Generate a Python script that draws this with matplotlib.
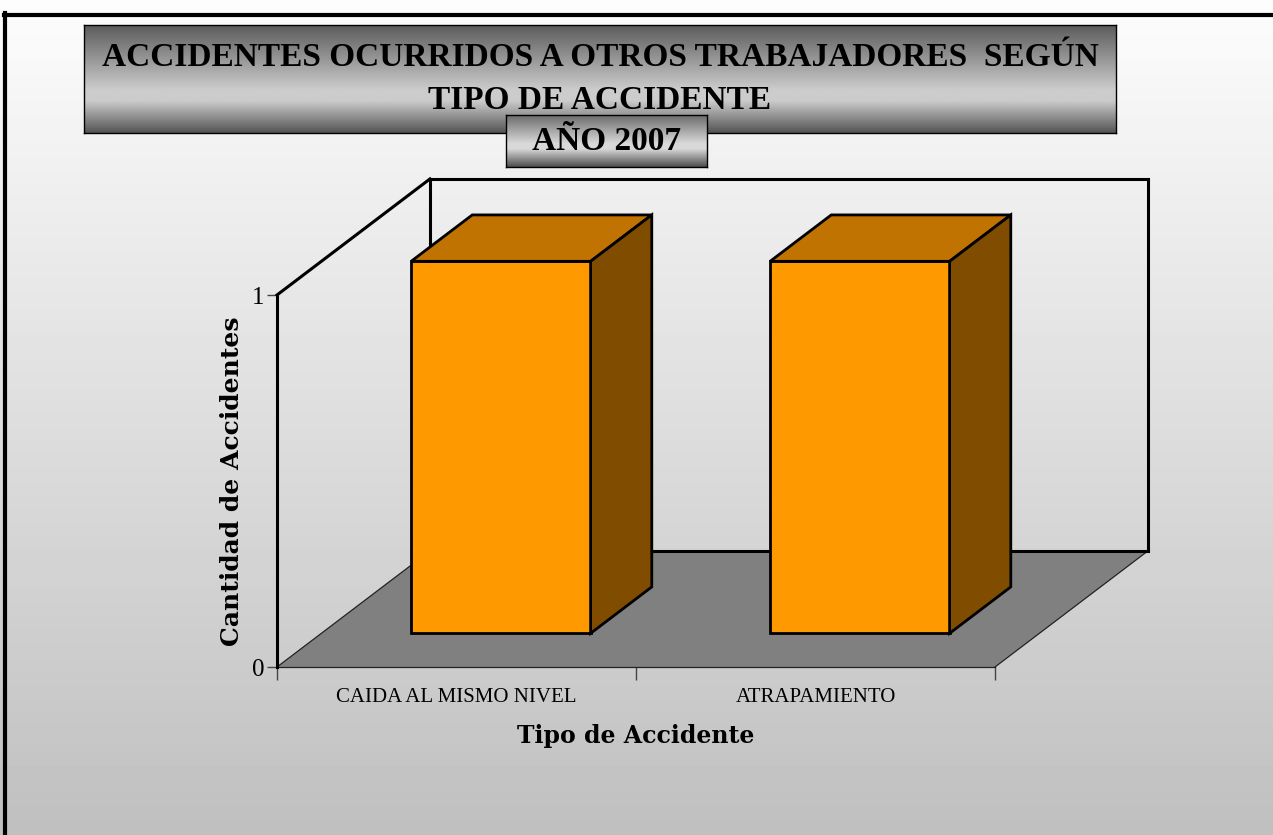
import numpy as np
import matplotlib.pyplot as plt
from matplotlib.patches import Polygon
from matplotlib.lines import Line2D

categories = ["CAIDA AL MISMO NIVEL", "ATRAPAMIENTO"]
values = [1, 1]
yticks = [0, 1]

title = "ACCIDENTES OCURRIDOS A OTROS TRABAJADORES  SEGÚN\nTIPO DE ACCIDENTE"
subtitle = "AÑO 2007"
xlabel = "Tipo de Accidente"
ylabel = "Cantidad de Accidentes"

W, H = 1273, 835
DX, DY = 0.426, 0.312      # full depth offset in data units
D0, D1 = 0.29, 0.69        # bar depth (front, back) as fraction of depth
BAR_W = 0.5

FRONT = "#FF9900"
TOP = "#C07300"
SIDE = "#804D00"
FLOOR = "#808080"


def fx(px):
    return px / W


def fy(py):
    return 1 - py / H


def gradient_axes(fig, rect, stops, z):
    a = fig.add_axes(rect, zorder=z)
    pos, val = zip(*stops)
    g = np.interp(np.linspace(0, 1, 256), pos, val)
    a.imshow(g[:, None], cmap="gray", vmin=0, vmax=1, aspect="auto",
             extent=(0, 1, 0, 1), origin="upper")
    a.set_xticks([])
    a.set_yticks([])
    for s in a.spines.values():
        s.set_color("black")
        s.set_linewidth(1.0)
    return a


def main():
    fig = plt.figure(figsize=(W / 100, H / 100), dpi=100)

    # page background
    bg = fig.add_axes([0, 0, 1, 1], zorder=-10)
    bg.imshow(np.linspace(0.99, 0.75, 256)[:, None], cmap="gray", vmin=0,
              vmax=1, aspect="auto", extent=(0, 1, 0, 1), origin="upper")
    bg.axis("off")
    fig.add_artist(Line2D([fx(4), 1], [fy(14.5), fy(14.5)], color="black",
                          lw=3, zorder=5))
    fig.add_artist(Line2D([fx(5.5), fx(5.5)], [fy(13), 0], color="black",
                          lw=3, zorder=5))

    # main plot: front plane axes
    ax = fig.add_axes([fx(277), fy(667), fx(995 - 277), (667 - 295) / H],
                      zorder=1)
    ax.set_facecolor("none")
    ax.set_xlim(0, 2)
    ax.set_ylim(0, 1)
    n = len(categories)

    floor = Polygon([(0, 0), (n, 0), (n + DX, DY), (DX, DY)],
                    closed=True, facecolor=FLOOR, edgecolor="none",
                    clip_on=False, zorder=1)
    ax.add_patch(floor)
    thin = dict(color="#222222", lw=0.9, clip_on=False, zorder=2)
    thick = dict(color="black", lw=2.2, clip_on=False, zorder=2,
                 solid_capstyle="projecting")
    ax.plot([0, DX], [0, DY], **thin)
    ax.plot([n, n + DX], [0, DY], **thin)
    ax.plot([DX, n + DX], [DY, DY], **thick)
    ax.plot([DX, DX], [DY, 1 + DY], **thick)
    ax.plot([DX, n + DX], [1 + DY, 1 + DY], **thick)
    ax.plot([n + DX, n + DX], [DY, 1 + DY], **thick)
    ax.plot([0, DX], [1, 1 + DY], **thick)

    # bars
    x = np.arange(n) + 0.5
    x0 = x + D0 * DX
    b0 = D0 * DY
    ddx = (D1 - D0) * DX
    ddy = (D1 - D0) * DY
    ax.bar(x0, values, width=BAR_W, bottom=b0, color=FRONT,
           edgecolor="black", linewidth=2, zorder=4, clip_on=False)
    for xc, v in zip(x0, values):
        l, r = xc - BAR_W / 2, xc + BAR_W / 2
        t = b0 + v
        ax.add_patch(Polygon([(l, t), (r, t), (r + ddx, t + ddy),
                              (l + ddx, t + ddy)], closed=True,
                             facecolor=TOP, edgecolor="black", lw=2,
                             joinstyle="miter", zorder=4, clip_on=False))
        ax.add_patch(Polygon([(r, b0), (r + ddx, b0 + ddy),
                              (r + ddx, t + ddy), (r, t)], closed=True,
                             facecolor=SIDE, edgecolor="black", lw=2,
                             joinstyle="miter", zorder=4, clip_on=False))

    # axes, ticks, labels
    for s in ["top", "right"]:
        ax.spines[s].set_visible(False)
    ax.spines["left"].set_linewidth(2.2)
    ax.spines["left"].set_zorder(3)
    ax.spines["bottom"].set_linewidth(0.9)
    ax.spines["bottom"].set_color("#222222")
    ax.set_yticks(yticks)
    ax.set_yticklabels([str(v) for v in yticks], fontfamily="Liberation Serif",
                       fontsize=18)
    ax.tick_params(axis="y", length=7, width=1, color="#444444", pad=2)
    ax.set_xticks(np.arange(n + 1))
    ax.set_xticklabels([])
    ax.tick_params(axis="x", which="major", length=9, width=1,
                   color="#444444")
    ax.set_xticks(x, minor=True)
    ax.set_xticklabels(categories, minor=True, fontfamily="Liberation Serif",
                       fontsize=15)
    ax.tick_params(axis="x", which="minor", length=0, pad=15)
    ax.set_xlabel(xlabel, fontfamily="DejaVu Serif", fontweight="bold",
                  fontsize=17, labelpad=12)
    ax.set_ylabel(ylabel, fontfamily="DejaVu Serif", fontweight="bold",
                  fontsize=18, labelpad=6)

    # title boxes
    t_ax = gradient_axes(fig, [fx(84), fy(133), fx(1116 - 84), (133 - 25) / H],
                         [(0, 0.36), (0.6, 0.80), (0.7, 0.80), (1, 0.33)], 6)
    t_ax.text(0.5, 0.5, title, ha="center", va="center",
              transform=t_ax.transAxes, fontfamily="Liberation Serif",
              fontweight="bold", fontsize=24, linespacing=1.5)
    y_ax = gradient_axes(fig, [fx(506), fy(167), fx(707 - 506), (167 - 115) / H],
                         [(0, 0.42), (0.55, 0.85), (0.65, 0.85), (1, 0.30)], 7)
    y_ax.text(0.5, 0.5, subtitle, ha="center", va="center",
              transform=y_ax.transAxes, fontfamily="Liberation Serif",
              fontweight="bold", fontsize=24)

    fig.savefig("out.png", dpi=100)


if __name__ == "__main__":
    main()
